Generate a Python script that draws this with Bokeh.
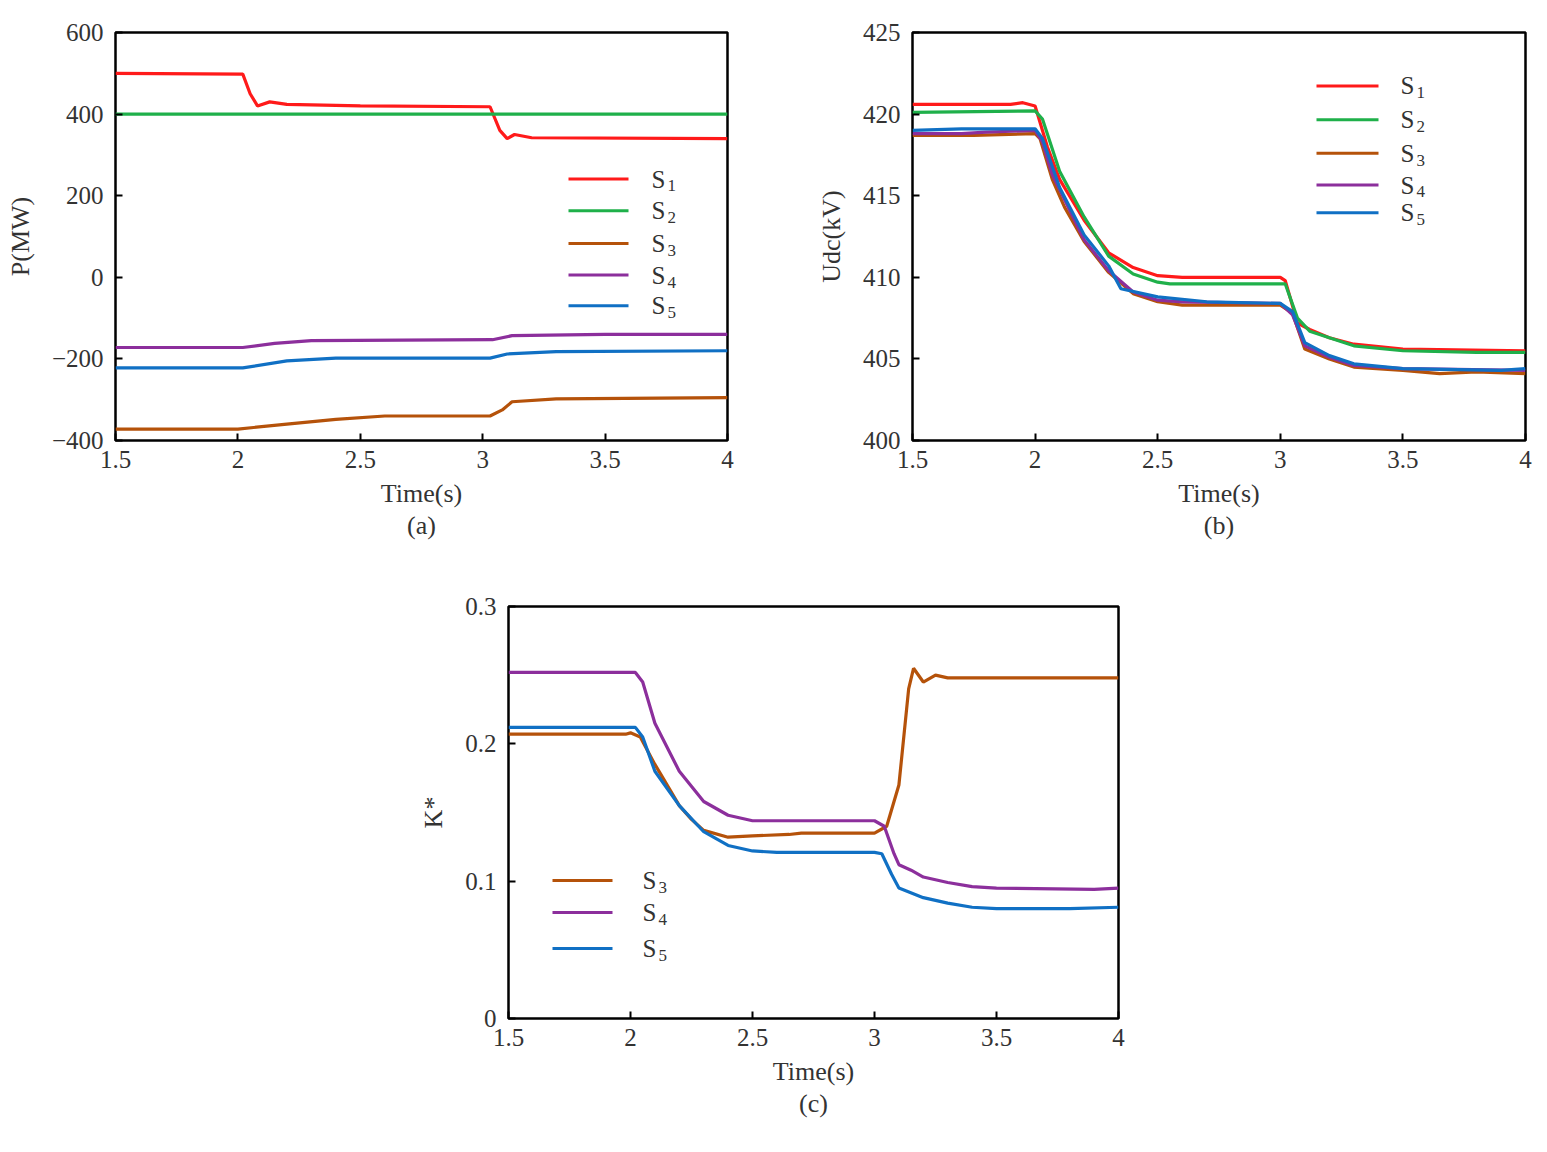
import numpy as np
from bokeh.plotting import figure
from bokeh.models import Label, FixedTicker, Spacer, LinearAxis
from bokeh.layouts import column, row
from bokeh.embed import file_html
from bokeh.resources import INLINE

FONT = "Liberation Serif"
COL = {"S1": "#ff1a1a", "S2": "#1fb04a", "S3": "#b5520a", "S4": "#8c2f9c", "S5": "#1070c4"}

# ---- (a) power ----
a_S1_t = [1.5, 2.02, 2.05, 2.08, 2.13, 2.2, 2.5, 3.03, 3.07, 3.1, 3.13, 3.2, 4.0]
a_S1_v = [500, 498, 450, 420, 430, 424, 420, 418, 360, 340, 350, 342, 340]
a_S2_t = [1.5, 4.0]
a_S2_v = [400, 400]
a_S3_t = [1.5, 2.0, 2.2, 2.4, 2.6, 3.03, 3.08, 3.12, 3.3, 4.0]
a_S3_v = [-372, -372, -360, -348, -340, -340, -325, -305, -298, -295]
a_S4_t = [1.5, 2.02, 2.15, 2.3, 3.04, 3.12, 3.5, 4.0]
a_S4_v = [-172, -172, -162, -155, -153, -143, -140, -140]
a_S5_t = [1.5, 2.02, 2.2, 2.4, 3.03, 3.1, 3.3, 4.0]
a_S5_v = [-222, -222, -205, -198, -198, -188, -182, -180]

# ---- (b) voltage ----
b_S1_t = [1.5, 1.9, 1.95, 2.0, 2.05, 2.1, 2.2, 2.3, 2.4, 2.5, 2.6, 3.0, 3.02, 3.07, 3.12, 3.2, 3.3, 3.5, 4.0]
b_S1_v = [420.6, 420.6, 420.7, 420.5, 418.0, 416.0, 413.5, 411.5, 410.6, 410.1, 410.0, 410.0, 409.8, 407.2, 406.8, 406.3, 405.9, 405.6, 405.5]
b_S2_t = [1.5, 2.0, 2.03, 2.1, 2.2, 2.3, 2.4, 2.5, 2.55, 3.02, 3.07, 3.12, 3.2, 3.3, 3.5, 3.8, 4.0]
b_S2_v = [420.1, 420.2, 419.7, 416.5, 413.7, 411.3, 410.2, 409.7, 409.6, 409.6, 407.5, 406.7, 406.3, 405.8, 405.5, 405.4, 405.4]
b_S3_t = [1.5, 1.75, 2.0, 2.02, 2.07, 2.12, 2.2, 2.3, 2.4, 2.5, 2.6, 3.0, 3.05, 3.1, 3.2, 3.3, 3.5, 3.65, 3.8, 4.0]
b_S3_v = [418.7, 418.7, 418.8, 418.5, 416.0, 414.3, 412.2, 410.3, 409.0, 408.5, 408.3, 408.3, 407.8, 405.6, 405.0, 404.5, 404.3, 404.1, 404.2, 404.1]
b_S4_t = [1.5, 1.7, 1.8, 2.0, 2.03, 2.07, 2.2, 2.3, 2.4, 2.5, 2.6, 3.0, 3.05, 3.1, 3.2, 3.3, 3.5, 4.0]
b_S4_v = [418.8, 418.8, 418.9, 419.0, 418.3, 416.3, 412.3, 410.4, 409.1, 408.6, 408.5, 408.4, 407.7, 405.8, 405.1, 404.6, 404.4, 404.3]
b_S5_t = [1.5, 1.7, 2.0, 2.03, 2.1, 2.2, 2.3, 2.35, 2.5, 2.7, 3.0, 3.05, 3.1, 3.2, 3.3, 3.5, 3.9, 4.0]
b_S5_v = [419.0, 419.1, 419.1, 418.5, 415.5, 412.6, 410.7, 409.3, 408.8, 408.5, 408.4, 407.9, 406.0, 405.2, 404.7, 404.4, 404.3, 404.4]

# ---- (c) K* ----
c_S3_t = [1.5, 1.98, 2.0, 2.04, 2.1, 2.2, 2.25, 2.3, 2.4, 2.5, 2.65, 2.7, 3.0, 3.05, 3.1, 3.14, 3.16, 3.2, 3.25, 3.3, 4.0]
c_S3_v = [0.207, 0.207, 0.208, 0.205, 0.185, 0.155, 0.145, 0.137, 0.132, 0.133, 0.134, 0.135, 0.135, 0.14, 0.17, 0.24, 0.255, 0.245, 0.25, 0.248, 0.248]
c_S4_t = [1.5, 2.02, 2.05, 2.1, 2.2, 2.3, 2.4, 2.5, 3.0, 3.04, 3.08, 3.1, 3.15, 3.2, 3.3, 3.4, 3.5, 3.9, 4.0]
c_S4_v = [0.252, 0.252, 0.245, 0.215, 0.18, 0.158, 0.148, 0.144, 0.144, 0.14, 0.12, 0.112, 0.108, 0.103, 0.099, 0.096, 0.095, 0.094, 0.095]
c_S5_t = [1.5, 2.02, 2.05, 2.1, 2.2, 2.3, 2.4, 2.5, 2.6, 3.0, 3.03, 3.07, 3.1, 3.2, 3.3, 3.4, 3.5, 3.8, 4.0]
c_S5_v = [0.212, 0.212, 0.205, 0.18, 0.155, 0.136, 0.126, 0.122, 0.121, 0.121, 0.12, 0.105, 0.095, 0.088, 0.084, 0.081, 0.08, 0.08, 0.081]

x_ticks = [1.5, 2, 2.5, 3, 3.5, 4]
x_tick_labels = {1.5: "1.5", 2: "2", 2.5: "2.5", 3: "3", 3.5: "3.5", 4: "4"}


def make_fig(w, h, left, right, top, bottom, yr, yticks, ylabels, frame, ylab, cap):
    p = figure(width=w, height=h, x_range=(1.5, 4), y_range=yr, output_backend="svg",
               toolbar_location=None, min_border_left=left, min_border_right=right,
               min_border_top=top, min_border_bottom=bottom)
    p.grid.visible = False
    p.outline_line_color = "black"
    p.outline_line_width = 2.5
    for ax in (p.xaxis[0], p.yaxis[0]):
        ax.axis_line_color = None
        ax.major_tick_in = 7
        ax.major_tick_out = 0
        ax.minor_tick_line_color = None
        ax.major_tick_line_width = 2
        ax.major_label_text_font = FONT
        ax.major_label_text_font_size = "25px"
        ax.major_label_text_color = "#333333"
        ax.axis_label_text_font = FONT
        ax.axis_label_text_font_size = "26px"
        ax.axis_label_text_color = "#333333"
        ax.axis_label_text_font_style = "normal"
    p.xaxis[0].ticker = FixedTicker(ticks=x_ticks)
    p.xaxis[0].major_label_overrides = x_tick_labels
    p.yaxis[0].ticker = FixedTicker(ticks=yticks)
    p.yaxis[0].major_label_overrides = ylabels
    p.xaxis[0].major_label_standoff = 10
    p.yaxis[0].major_label_standoff = 12
    p.xaxis[0].axis_label = "Time(s)"
    p.xaxis[0].axis_label_standoff = 8
    p.yaxis[0].axis_label = ylab
    p.yaxis[0].axis_label_standoff = 14
    cax = LinearAxis(ticker=FixedTicker(ticks=[]), axis_line_color=None,
                     major_tick_line_color=None, minor_tick_line_color=None,
                     major_label_text_font_size="0px", axis_label=cap,
                     axis_label_text_font=FONT, axis_label_text_font_size="26px",
                     axis_label_text_color="#333333", axis_label_text_font_style="normal",
                     axis_label_standoff=0)
    p.add_layout(cax, "below")
    fl, fr, ft, fb = frame

    def X(px):
        return 1.5 + (px - fl) / (fr - fl) * 2.5

    def Y(py):
        return yr[1] - (py - ft) / (fb - ft) * (yr[1] - yr[0])
    return p, X, Y


def lab(p, x, y, text, size=25):
    p.add_layout(Label(x=x, y=y, text=text, text_font=FONT, text_font_size=f"{size}px",
                       text_align="left", text_baseline="middle", text_color="#333333"))


def legend(p, X, Y, names, x0, x1, xt, rows):
    for n, ry in zip(names, rows):
        p.line([X(x0), X(x1)], [Y(ry), Y(ry)], line_color=COL[n], line_width=3)
        lab(p, X(xt), Y(ry), "S", 25)
        lab(p, X(xt + 16), Y(ry + 7), n[1], 17)


# (a)
pa, Xa, Ya = make_fig(808, 580, 115, 81, 32, 136, (-400, 600), [-400, -200, 0, 200, 400, 600],
                      {-400: "\u2212400", -200: "\u2212200", 0: "0", 200: "200", 400: "400", 600: "600"},
                      (115, 727, 32, 444), "P(MW)", "(a)")
for n, t, v in [("S1", a_S1_t, a_S1_v), ("S2", a_S2_t, a_S2_v), ("S3", a_S3_t, a_S3_v),
                ("S4", a_S4_t, a_S4_v), ("S5", a_S5_t, a_S5_v)]:
    pa.line(t, v, line_color=COL[n], line_width=3.2)
legend(pa, Xa, Ya, ["S1", "S2", "S3", "S4", "S5"], 568, 628, 651, [180, 212, 245, 277, 308])

# (b)
pb, Xb, Yb = make_fig(727, 580, 104, 10, 28, 140, (400, 425), [400, 405, 410, 415, 420, 425],
                      {400: "400", 405: "405", 410: "410", 415: "415", 420: "420", 425: "425"},
                      (912, 1525, 28, 440), "Udc(kV)", "(b)")
for n, t, v in [("S1", b_S1_t, b_S1_v), ("S2", b_S2_t, b_S2_v), ("S3", b_S3_t, b_S3_v),
                ("S4", b_S4_t, b_S4_v), ("S5", b_S5_t, b_S5_v)]:
    pb.line(t, v, line_color=COL[n], line_width=3.2)
legend(pb, Xb, Yb, ["S1", "S2", "S3", "S4", "S5"], 1316, 1378, 1400, [82, 116, 150, 182, 210])

# (c)
pc, Xc, Yc = make_fig(730, 565, 100, 20, 26, 127, (0, 0.3), [0, 0.1, 0.2, 0.3],
                      {0: "0", 0.1: "0.1", 0.2: "0.2", 0.3: "0.3"},
                      (508, 1118, 606, 1018), "K*", "(c)")
for n, t, v in [("S3", c_S3_t, c_S3_v), ("S4", c_S4_t, c_S4_v), ("S5", c_S5_t, c_S5_v)]:
    pc.line(t, v, line_color=COL[n], line_width=3.2)
legend(pc, Xc, Yc, ["S3", "S4", "S5"], 552, 612, 642, [880, 912, 948])

layout = column(row(pa, pb), row(Spacer(width=408, height=565), pc))
open("out.html", "w").write(file_html(layout, INLINE))
